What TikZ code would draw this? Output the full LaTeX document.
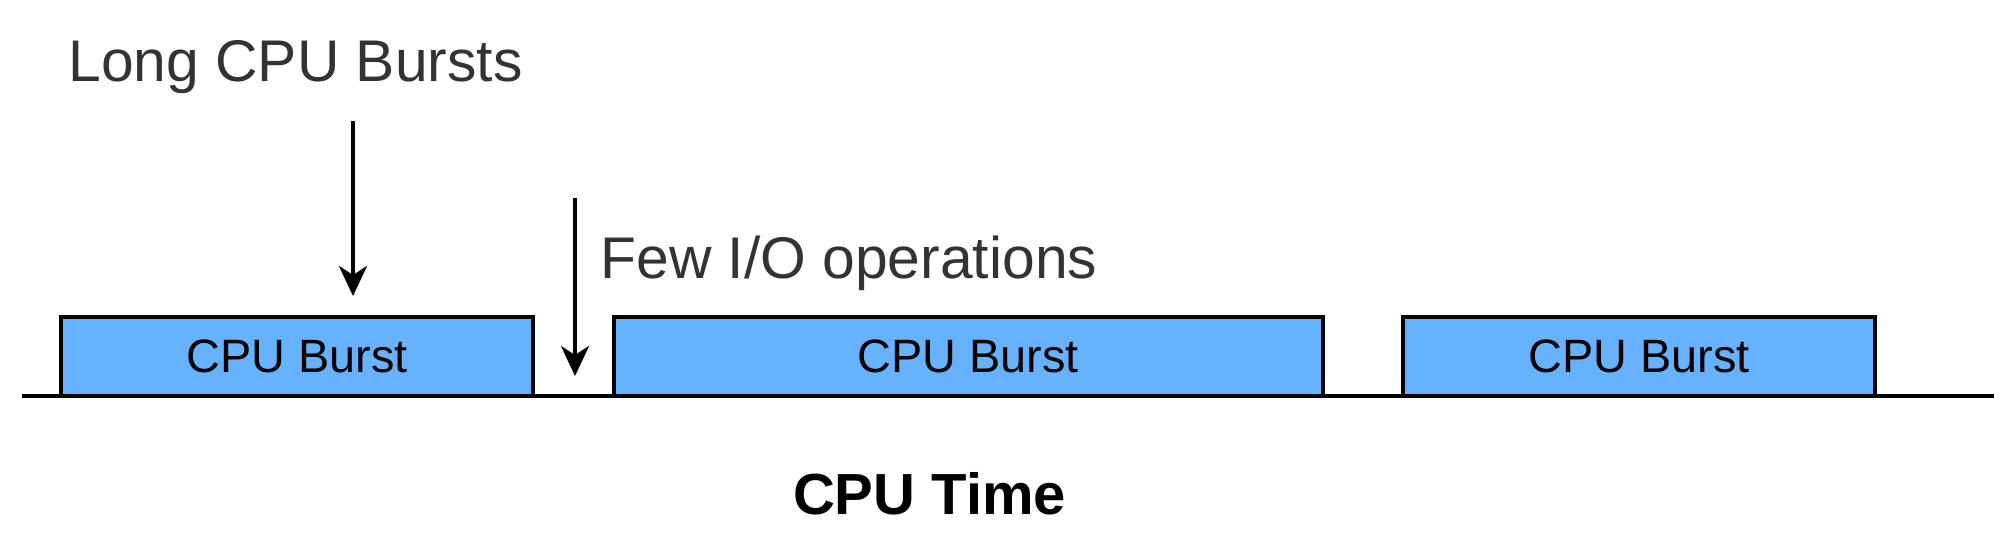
\documentclass[tikz,border=0pt]{standalone}
\usepackage{fontspec}
\setmainfont{Liberation Sans}
\usetikzlibrary{arrows.meta}
\definecolor{burstblue}{HTML}{66B2FF}
\definecolor{labgray}{HTML}{333333}

\begin{document}
\begin{tikzpicture}[
    x = 0.5pt, y = -0.5pt,
    burst/.style = {
        draw,
        line width     = 1.7pt,
        fill           = burstblue,
        minimum height = 39.5pt,
        inner sep      = 0pt,
        font           = \fontsize{23.4}{28}\selectfont
    },
    etiq/.style = {
        font      = \fontsize{29.4}{35}\selectfont,
        color     = labgray,
        inner sep = 0pt
    },
    flecha/.style = {
        line width = 1.7pt,
        -{Stealth[length=15pt, width=14pt, inset=4.5pt]}
    }
]

\useasboundingbox (0,0) rectangle (2000,556);

% ================================================================
%  TIME AXIS
%  unit = 1 px of the 2000 x 556 frame, y grows downwards
% ================================================================

\coordinate (t0) at (22, 396);
\coordinate (t1) at (1994, 396);
\draw[line width=1.7pt] (t0) -- (t1);

% ================================================================
%  CPU BURSTS (bottom edge on the axis)
% ================================================================

\node[burst, minimum width=236pt]   (b1) at (297, 356.5)   {CPU Burst};
\node[burst, minimum width=354.5pt] (b2) at (968.5, 356.5) {CPU Burst};
\node[burst, minimum width=236pt]   (b3) at (1639, 356.5)  {CPU Burst};

% ================================================================
%  LABELS + ARROWS
% ================================================================

\node[etiq, anchor=base west] (lng) at (68, 82)  {Long CPU Bursts};
\node[etiq, anchor=base west] (few) at (600, 278) {Few I/O operations};

\coordinate (a1s) at (353, 121);
\coordinate (a1e) at (353, 296);
\draw[flecha] (a1s) -- (a1e);

\coordinate (a2s) at (575, 198);
\coordinate (a2e) at (575, 376);
\draw[flecha] (a2s) -- (a2e);

% Axis title
\node[font=\fontsize{29}{35}\selectfont\bfseries, inner sep=0pt, anchor=base]
    (ttl) at (929.5, 514) {CPU Time};

\end{tikzpicture}
\end{document}
